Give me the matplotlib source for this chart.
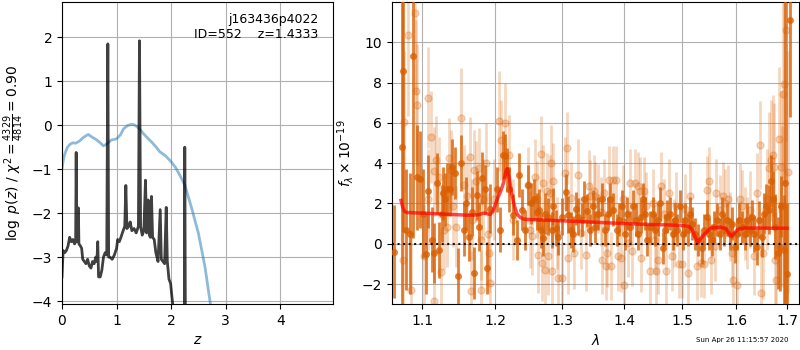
import numpy as np
import matplotlib
matplotlib.use('Agg')
from matplotlib import pyplot as plt
from matplotlib.ticker import NullLocator, FixedLocator, FixedFormatter

# left panel: redshift grid, log p(z) and scaled chi2
z_pz = [0.00, 0.02, 0.05, 0.08, 0.11, 0.14, 0.17, 0.20, 0.23, 0.25, 0.26, 0.27,
        0.29, 0.30, 0.31, 0.34, 0.36, 0.38, 0.41, 0.44, 0.47, 0.50, 0.53, 0.56,
        0.59, 0.62, 0.64, 0.655, 0.67, 0.70, 0.73, 0.76, 0.79, 0.82, 0.84, 0.855,
        0.88, 0.92, 0.96, 1.00, 1.02, 1.05, 1.08, 1.12, 1.15, 1.17, 1.19, 1.22,
        1.25, 1.28, 1.32, 1.36, 1.40, 1.42, 1.44, 1.47, 1.50, 1.53, 1.55, 1.58,
        1.60, 1.62, 1.64, 1.66, 1.69, 1.72, 1.76, 1.80, 1.82, 1.85, 1.88, 1.91,
        1.93, 1.96, 1.99, 2.01, 2.04, 2.07, 2.12, 2.24, 2.25, 2.265, 2.40, 3.00, 4.97]
logpz = [-3.45, -2.85, -2.90, -2.85, -2.75, -2.55, -2.65, -2.60, -2.70, -2.65, -0.62, -2.60,
         -2.65, -1.88, -2.70, -2.75, -2.80, -3.05, -3.10, -3.15, -3.05, -3.20, -3.25, -3.10,
         -3.15, -3.00, -3.10, -2.65, -3.45, -3.45, -3.30, -3.00, -2.90, -2.95, 1.85, -3.00,
         -3.00, -3.05, -2.95, -2.80, -2.60, -2.65, -2.55, -2.40, -2.30, -1.37, -2.35, -2.30,
         -2.20, -2.40, -2.35, -2.45, -2.30, 1.92, -2.30, -2.50, -2.40, -1.25, -2.45, -1.70,
         -2.50, -2.55, -1.62, -2.55, -2.60, -2.90, -3.10, -1.92, -3.05, -3.10, -3.15, -1.87,
         -3.10, -3.50, -3.60, -3.85, -4.20, -5.00, -6.00, -6.00, -0.50, -6.00, -8.00, -15.0, -30.0]

z_chi = [0.00, 0.03, 0.06, 0.10, 0.15, 0.20, 0.25, 0.32, 0.40, 0.48, 0.55, 0.63,
         0.70, 0.76, 0.83, 0.90, 1.00, 1.07, 1.13, 1.20, 1.27, 1.32, 1.36, 1.42,
         1.49, 1.56, 1.64, 1.72, 1.79, 1.90, 2.00, 2.08, 2.16, 2.25, 2.37, 2.50,
         2.62, 2.72, 2.80, 3.00]
chi_scaled = [-0.98, -0.75, -0.62, -0.50, -0.43, -0.40, -0.41, -0.36, -0.27, -0.21, -0.27, -0.33,
              -0.40, -0.47, -0.42, -0.34, -0.31, -0.22, -0.08, -0.01, 0.02, 0.01, -0.02, -0.08,
              -0.19, -0.28, -0.38, -0.49, -0.60, -0.70, -0.83, -0.96, -1.14, -1.36, -1.86, -2.46,
              -3.22, -4.07, -4.8, -7.0]

# right panel: spectrum (dark = first beam, light = second beam), model
dark_wave = [1.0639, 1.0737, 1.0757, 1.0790, 1.0844, 1.0887, 1.0931, 1.0974, 1.1017, 1.1057,
             1.1083, 1.1127, 1.1162, 1.1194, 1.1228, 1.1261, 1.1282, 1.1305, 1.1336, 1.1371,
             1.1394, 1.1438, 1.1483, 1.1519, 1.1560, 1.1594, 1.1627, 1.1672, 1.1708, 1.1740,
             1.1776, 1.1813, 1.1854, 1.1890, 1.1927,
             1.2025, 1.2073, 1.2111, 1.2145, 1.2169, 1.2208, 1.2266, 1.2316, 1.2354, 1.2389,
             1.2438, 1.2487, 1.2527, 1.2577, 1.2613, 1.2647, 1.2677, 1.2712, 1.2738, 1.2788,
             1.2840, 1.2865, 1.2906, 1.2942, 1.2994, 1.3061, 1.3098, 1.3140, 1.3176, 1.3218,
             1.3254, 1.3308, 1.3350, 1.3387, 1.3441, 1.3484,
             1.3520, 1.3574, 1.3629, 1.3684, 1.3737, 1.3764, 1.3819, 1.3875, 1.3918, 1.3958,
             1.4013, 1.4052, 1.4097, 1.4153, 1.4198, 1.4238, 1.4278, 1.4312, 1.4351, 1.4391,
             1.4437, 1.4483, 1.4524, 1.4570, 1.4610, 1.4657, 1.4698, 1.4738, 1.4786, 1.4833,
             1.4874, 1.4916, 1.4963, 1.5012, 1.5054, 1.5102, 1.5143,
             1.5172, 1.5234, 1.5294, 1.5356, 1.5398, 1.5447, 1.5495, 1.5540, 1.5582, 1.5633,
             1.5682, 1.5726, 1.5775, 1.5820, 1.5870, 1.5916, 1.5965, 1.6010, 1.6060, 1.6106,
             1.6157, 1.6202, 1.6253, 1.6300, 1.6350, 1.6397, 1.6442, 1.6494, 1.6541, 1.6580,
             1.6626, 1.6673, 1.6712, 1.6759, 1.6805, 1.6845, 1.6873, 1.6926, 1.6960, 1.6993,
             1.7061]
dark_flux = [-0.40, 4.80, 8.60, 0.70, 0.50, 9.30, 3.30, 3.20, 1.50, -0.50,
             2.60, 0.20, -0.45, 3.00, -0.30, 1.50, 2.50, 2.20, 2.70, 2.70,
             3.80, 3.50, -1.60, 4.00, 0.70, 2.00, 0.35, 1.60, -1.45, 2.40,
             0.85, 3.25, 2.70, -1.20, 1.75,
             2.70, 0.70, 4.40, 4.35, 3.65, 2.70, 1.45, 0.20, 3.40, 1.70,
             0.70, 2.90, 2.00, 2.20, 1.60, 1.70, 0.70, 0.30, 1.50, 1.35,
             0.70, 1.85, 0.80, 0.35, 1.35, 2.55, 1.45, 0.70, 0.50, 1.75,
             1.35, 1.20, 2.20, 1.65, 0.70, 1.85,
             0.85, 1.50, 2.20, 0.70, 1.50, 2.20, 1.70, 0.70, 1.20, 1.85,
             0.50, 1.50, 0.85, 1.85, 1.20, 0.50, 1.35, 2.20, 1.50, 0.20,
             0.85, 1.50, 0.70, 1.20, 2.00, -0.20, 0.70, 1.35, 1.50, 0.50,
             1.20, 0.70, 1.85, 0.50, 1.20, 0.70, 1.50,
             1.00, 0.50, 0.20, -0.20, 0.70, 1.35, 0.50, 0.20, 0.85, 1.20,
             0.50, 1.50, 0.70, 1.20, 0.50, 1.00, -0.15, 0.50, 1.20, 0.85,
             0.50, 1.20, 0.70, 1.35, 0.50, -0.15, 1.20, 0.35, 1.50, 1.85,
             1.70, 3.10, 2.20, 0.85, -0.45, -0.15, 1.85, -0.30, 3.00, -1.50,
             11.10]
dark_err = [2.3, 10.0, 8.0, 3.0, 3.0, 9.0, 2.6, 2.4, 2.2, 2.0,
            1.8, 1.6, 1.5, 1.5, 1.4, 1.4, 1.3, 1.3, 1.3, 1.3,
            1.4, 1.3, 1.4, 1.4, 1.3, 1.3, 1.2, 1.2, 1.3, 1.2,
            1.2, 1.3, 1.2, 1.3, 1.2,
            1.1, 1.1, 1.2, 1.1, 1.1, 1.1, 1.0, 1.0, 1.1, 1.0,
            1.0, 1.0, 1.0, 1.0, 0.9, 1.0, 0.9, 0.9, 1.0, 0.9,
            0.9, 0.9, 0.9, 0.9, 0.9, 0.9, 0.9, 0.9, 0.9, 0.8,
            0.9, 0.8, 0.9, 0.8, 0.8, 0.8,
            0.8, 0.8, 0.8, 0.8, 0.8, 0.8, 0.8, 0.8, 0.8, 0.8,
            0.8, 0.8, 0.8, 0.8, 0.8, 0.8, 0.8, 0.8, 0.8, 0.8,
            0.8, 0.8, 0.8, 0.8, 0.8, 0.8, 0.8, 0.8, 0.8, 0.8,
            0.8, 0.8, 0.8, 0.8, 0.8, 0.8, 0.8,
            0.8, 0.8, 0.8, 0.8, 0.8, 0.8, 0.8, 0.8, 0.8, 0.8,
            0.8, 0.8, 0.8, 0.8, 0.8, 0.8, 0.8, 0.8, 0.8, 0.8,
            0.8, 0.8, 0.8, 0.8, 0.9, 0.9, 0.9, 1.0, 1.0, 1.1,
            1.2, 1.3, 1.4, 1.6, 1.8, 2.2, 1.5, 2.7, 12.0, 3.5,
            4.8]

light_wave = [1.0755, 1.0764, 1.0817, 1.0852, 1.0906, 1.0919, 1.0932, 1.1030, 1.1074, 1.1083,
              1.1119, 1.1154, 1.1163, 1.1185, 1.1230, 1.1252, 1.1296, 1.1332, 1.1363, 1.1385,
              1.1407, 1.1452, 1.1518, 1.1563, 1.1607, 1.1652, 1.1665, 1.1674, 1.1696, 1.1732,
              1.1776, 1.1794, 1.1807, 1.1829, 1.1865, 1.1896, 1.1918,
              1.1930, 1.1980, 1.2056, 1.2082, 1.2142, 1.2208, 1.2258, 1.2486, 1.2511, 1.2536,
              1.2587, 1.2612, 1.2637, 1.2677, 1.2688, 1.2713, 1.2738, 1.2763, 1.2789, 1.2814,
              1.2829, 1.2839, 1.2864, 1.2915, 1.2940, 1.2991, 1.3041, 1.3081, 1.3092, 1.3132,
              1.3182, 1.3253, 1.3294, 1.3369, 1.3420, 1.3445, 1.3496,
              1.3526, 1.3565, 1.3610, 1.3639, 1.3667, 1.3695, 1.3712, 1.3752, 1.3780, 1.3808,
              1.3865, 1.3893, 1.3950, 1.3978, 1.3989, 1.4063, 1.4091, 1.4130, 1.4176, 1.4232,
              1.4260, 1.4289, 1.4334, 1.4373, 1.4430, 1.4486, 1.4515, 1.4543, 1.4571, 1.4628,
              1.4684, 1.4712, 1.4769, 1.4825, 1.4854, 1.4882, 1.4938, 1.4995, 1.5051, 1.5108,
              1.5136,
              1.5269, 1.5333, 1.5398, 1.5449, 1.5494, 1.5526, 1.5591, 1.5623, 1.5687, 1.5752,
              1.5784, 1.5836, 1.5881, 1.5913, 1.5945, 1.6009, 1.6074, 1.6106, 1.6170, 1.6203,
              1.6267, 1.6331, 1.6396, 1.6460, 1.6480, 1.6525, 1.6589, 1.6634, 1.6673, 1.6705,
              1.6737, 1.6750, 1.6782, 1.6827, 1.6866, 1.6892, 1.6917, 1.6930, 1.6975, 1.7008]
light_flux = [-0.80, 6.05, 10.35, -2.30, 11.45, 7.60, 6.90, -0.60, 2.20, 7.25,
              5.30, 3.60, -2.85, 4.15, 3.30, -1.40, 0.70, 0.85, 4.25, 3.65,
              1.85, 0.85, 6.25, 2.90, 2.35, 4.30, -2.35, 1.20, 3.65, 3.10,
              3.75, -2.30, 0.20, 2.20, 4.00, 0.50, -0.45,
              -1.95, 2.20, 6.10, 5.15, 6.00, 4.40, 1.20, 2.90, 0.70, 0.36,
              3.30, 2.20, -0.55, 4.45, -0.95, 3.00, -1.30, 2.60, -0.63, 2.50,
              4.00, -1.37, 3.10, 0.53, -1.70, -1.70, 3.50, 4.75, -0.70, 2.25,
              -0.46, 3.40, 0.53, -0.55, 2.85, 2.35, 2.60,
              2.35, 2.25, 1.60, -0.80, 2.50, -1.10, -0.45, 3.17, -1.10, 3.17,
              3.17, -0.63, -0.70, 2.20, -2.03, 0.03, 3.00, -0.38, 3.00, 2.85,
              2.60, -0.70, 2.60, 1.85, -1.37, 2.00, 0.20, -1.37, -0.80, 2.85,
              1.50, -1.37, 2.50, -0.63, 0.53, 1.85, -1.00, -1.00, 1.75, -1.45,
              2.35,
              -1.10, -0.95, -1.00, 2.67, 3.10, -0.80, -0.13, 2.50, 1.70, 2.35,
              2.00, 2.20, 0.86, -0.46, -1.80, -2.03, 2.20, 1.85, 1.00, 0.53,
              1.70, -0.63, 2.50, 4.90, -2.44, -0.46, 2.20, 3.75, 4.15, 4.40,
              3.80, -0.80, -1.80, 5.20, 3.80, 1.85, 7.45, 7.95, 10.60, 3.55]
light_err = [3.5, 3.5, 4.0, 3.0, 4.0, 3.5, 3.0, 2.5, 2.5, 2.5,
             2.3, 2.2, 2.2, 2.2, 2.0, 2.0, 2.0, 2.0, 2.0, 2.0,
             2.0, 2.0, 2.5, 2.0, 2.0, 2.0, 2.0, 2.0, 2.0, 2.0,
             2.0, 2.0, 2.0, 2.0, 2.0, 2.0, 2.0,
             2.0, 2.0, 2.5, 2.0, 2.0, 2.0, 2.0, 1.9, 1.9, 1.9,
             1.9, 1.9, 1.9, 1.9, 1.9, 1.9, 1.9, 1.9, 1.9, 1.9,
             1.9, 1.9, 1.9, 1.8, 1.8, 1.8, 1.8, 1.8, 1.8, 1.8,
             1.8, 1.8, 1.8, 1.8, 1.8, 1.8, 1.8,
             1.7, 1.7, 1.7, 1.7, 1.7, 1.7, 1.7, 1.7, 1.7, 1.7,
             1.7, 1.7, 1.7, 1.7, 1.7, 1.7, 1.7, 1.7, 1.7, 1.7,
             1.7, 1.7, 1.7, 1.7, 1.7, 1.7, 1.7, 1.7, 1.7, 1.7,
             1.7, 1.7, 1.7, 1.7, 1.7, 1.7, 1.7, 1.7, 1.7, 1.7,
             1.7,
             1.7, 1.7, 1.7, 1.7, 1.7, 1.7, 1.7, 1.7, 1.7, 1.7,
             1.7, 1.7, 1.7, 1.7, 1.7, 1.7, 1.8, 1.8, 1.8, 1.8,
             1.9, 1.9, 2.0, 2.2, 2.2, 2.3, 2.5, 2.8, 3.0, 3.0,
             3.2, 3.2, 3.4, 3.6, 3.8, 4.0, 4.5, 5.0, 5.5, 6.0]

model_wave = [1.0728, 1.0750, 1.0775, 1.0800, 1.1000, 1.1300, 1.1600, 1.1700, 1.1780, 1.1830,
              1.1880, 1.1930, 1.1970, 1.2030, 1.2080, 1.2120, 1.2155, 1.2175, 1.2200, 1.2240,
              1.2280, 1.2316, 1.2360, 1.2420, 1.2500, 1.3000, 1.3500, 1.4000, 1.4200, 1.4500,
              1.4800, 1.5050, 1.5120, 1.5180, 1.5230, 1.5280, 1.5330, 1.5380, 1.5450, 1.5520,
              1.5700, 1.5800, 1.5860, 1.5915, 1.5970, 1.6030, 1.6150, 1.6400, 1.6700, 1.6996]
model_flux = [2.15, 1.80, 1.60, 1.55, 1.52, 1.47, 1.42, 1.42, 1.45, 1.52,
              1.50, 1.45, 1.60, 2.20, 2.60, 3.00, 3.55, 3.72, 3.40, 2.50,
              1.90, 1.50, 1.32, 1.22, 1.20, 1.14, 1.07, 1.00, 0.98, 0.95,
              0.93, 0.89, 0.86, 0.70, 0.35, 0.05, 0.25, 0.40, 0.60, 0.78,
              0.82, 0.76, 0.52, 0.36, 0.55, 0.72, 0.78, 0.78, 0.77, 0.77]

wave_ticks = [1.1, 1.2, 1.3, 1.4, 1.5, 1.6, 1.7]
orange = '#d95f02'


def plot_pz(ax):
    ax.plot(z_chi, chi_scaled, color='tab:blue', alpha=0.5, lw=2, zorder=2)
    ax.plot(z_pz, logpz, color='k', alpha=0.75, lw=2, zorder=3)
    ax.set_xlim(0, 4.97)
    ax.set_ylim(-4.07, 2.8)
    ax.set_xticks([0, 1, 2, 3, 4])
    ax.set_yticks([-4, -3, -2, -1, 0, 1, 2])
    ax.grid()
    ax.set_xlabel('$z$')
    ax.set_ylabel(r'$\log\ p(z)$ / $\chi^2=\frac{4329}{4814}=0.90$')
    ax.text(0.945, 0.965, 'j163436p4022\nID=552    z=1.4333', ha='right', va='top',
            transform=ax.transAxes, fontsize=9)


def plot_spectrum(ax):
    ax.errorbar(light_wave, light_flux, yerr=light_err, fmt='o', color=orange, alpha=0.25,
                ms=5, elinewidth=2, capsize=0, zorder=2)
    ax.errorbar(dark_wave, dark_flux, yerr=dark_err, fmt='o', color=orange, alpha=0.8,
                ms=5, mec='none', elinewidth=2, capsize=0, zorder=3)
    ax.plot(model_wave, model_flux, color='r', alpha=0.7, lw=2.5, zorder=4)
    ax.axhline(0, color='k', linestyle=':', lw=1.5, alpha=0.9, zorder=5)
    ax.set_xscale('log')
    ax.set_xlim(1.0613, 1.7245)
    ax.set_ylim(-3, 12)
    ax.xaxis.set_major_locator(FixedLocator(wave_ticks))
    ax.xaxis.set_major_formatter(FixedFormatter([str(w) for w in wave_ticks]))
    ax.xaxis.set_minor_locator(NullLocator())
    ax.set_yticks([-2, 0, 2, 4, 6, 8, 10])
    ax.grid()
    ax.set_xlabel(r'$\lambda$')
    ax.set_ylabel(r'$f_\lambda\times10^{-19}$')


if __name__ == '__main__':
    fig = plt.figure(figsize=(8, 3.5), dpi=100)
    ax1 = fig.add_axes([0.0775, 0.131, 0.339, 0.863])
    ax2 = fig.add_axes([0.49, 0.131, 0.509, 0.863])
    plot_pz(ax1)
    plot_spectrum(ax2)
    fig.text(0.985, 0.028, 'Sun Apr 26 11:15:57 2020', ha='right', va='center', fontsize=5)
    fig.savefig('out.png', dpi=100)
